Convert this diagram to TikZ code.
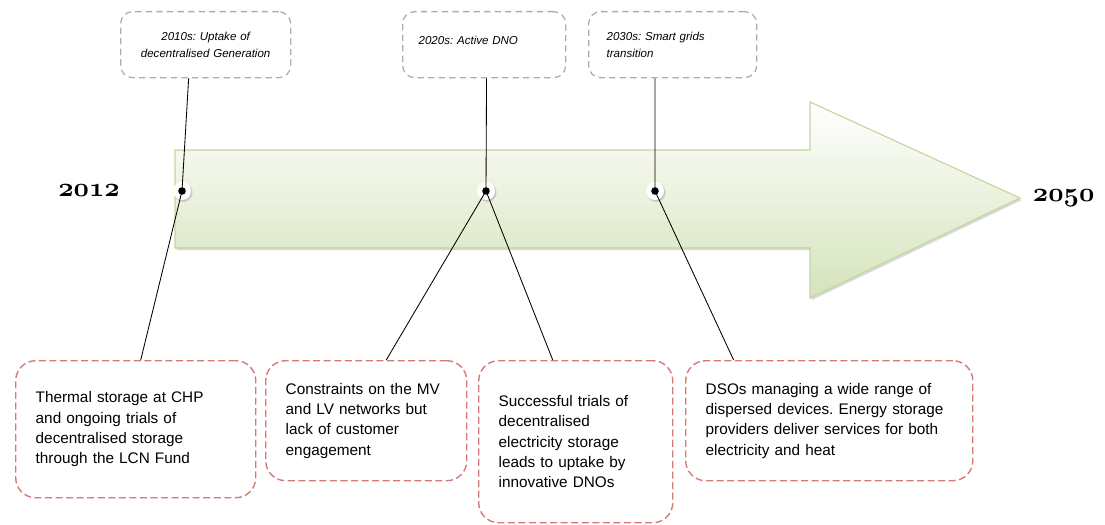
\documentclass[tikz,border=0pt]{standalone}
\usepackage{fontspec}
\setsansfont{Liberation Sans}
\usetikzlibrary{positioning,shadows}

\definecolor{notered}{RGB}{212,122,120}
\definecolor{eragray}{RGB}{172,172,172}
\definecolor{arrowline}{RGB}{196,214,158}
\definecolor{arrowfill}{RGB}{213,227,186}

\font\yearfont=cmmib10 at 19pt
\frenchspacing

\tikzset{
  era/.style={draw=eragray, line width=0.9pt, dash pattern=on 4.5pt off 3pt,
    rounded corners=0.3cm, anchor=north west, minimum height=1.65cm,
    inner xsep=0.4cm, font=\sffamily\itshape\fontsize{8.2}{12}\selectfont},
  note/.style={draw=notered, line width=1pt, dash pattern=on 5pt off 2.5pt,
    rounded corners=0.5cm, anchor=north west, inner xsep=0.5cm, align=left,
    font=\sffamily\fontsize{10.9}{14.4}\selectfont},
  year/.style={font=\yearfont},
  marker/.style={circle, minimum size=0.45cm, inner sep=0pt, fill=white,
    circular drop shadow={shadow xshift=0.6pt, shadow yshift=-0.8pt, opacity=0.35},
    path picture={\fill[black] (path picture bounding box.center) circle (2.7pt);}},
  link/.style={draw=black, line width=0.6pt},
}

\begin{document}
\begin{tikzpicture}[x=0.025cm, y=-0.025cm]
  \useasboundingbox (0,0) rectangle (1105,525);

  % timeline arrow
  \coordinate (tip) at (1020,198);
  \path[draw=arrowline, line width=0.8pt, top color=white, bottom color=arrowfill,
        drop shadow={shadow xshift=1.2pt, shadow yshift=-1.5pt, opacity=0.3}]
    (175,150) -- (810,150) -- (810,102) -- (tip) -- (810,298) -- (810,248) -- (175,248) -- cycle;

  % markers on the arrow
  \node[marker] (dot1) at (182,191) {};
  \node[marker] (dot2) at (486,191) {};
  \node[marker] (dot3) at (655,191) {};

  \node[year, left=1.2cm of dot1] (y2012) {2012};
  \node[year, right=0.2cm of tip] (y2050) {2050};

  % eras
  \node[era, align=center, text width=3.45cm] (era1) at (120,11) {2010s: Uptake of\\decentralised Generation};
  \node[era, align=left, text width=3.275cm, text depth=0.2cm] (era2) at (402,11) {2020s: Active DNO};
  \node[era, align=left, text width=3.3cm, inner xsep=0.45cm] (era3) at (588,11) {2030s: Smart grids\\transition};

  % notes
  \node[note, text width=5cm, minimum height=3.425cm] (note1) at (15,360)
    {Thermal storage at CHP\\and ongoing trials of\\decentralised storage\\through the LCN Fund};
  \node[note, text width=4.025cm, minimum height=3cm] (note2) at (265,360)
    {Constraints on the MV\\and LV networks but\\lack of customer\\engagement};
  \node[note, text width=3.85cm, minimum height=4.05cm] (note3) at (478,360)
    {Successful trials of\\decentralised\\electricity storage\\leads to uptake by\\innovative DNOs};
  \node[note, text width=6.175cm, minimum height=3cm] (note4) at (685,360)
    {DSOs managing a wide range of\\dispersed devices. Energy storage\\providers deliver services for both\\electricity and heat};

  % connectors
  \draw[link] ([xshift=-0.425cm]era1.south) -- (dot1.center) -- ([xshift=0.125cm]note1.north);
  \draw[link] ([xshift=0.06cm]era2.south) -- (dot2.center);
  \draw[link] (dot2.center) -- ([xshift=0.5cm]note2.north);
  \draw[link] (dot2.center) -- ([xshift=-0.575cm]note3.north);
  \draw[link] ([xshift=-0.44cm]era3.south) -- (dot3.center) -- ([xshift=-2.39cm]note4.north);
\end{tikzpicture}
\end{document}
